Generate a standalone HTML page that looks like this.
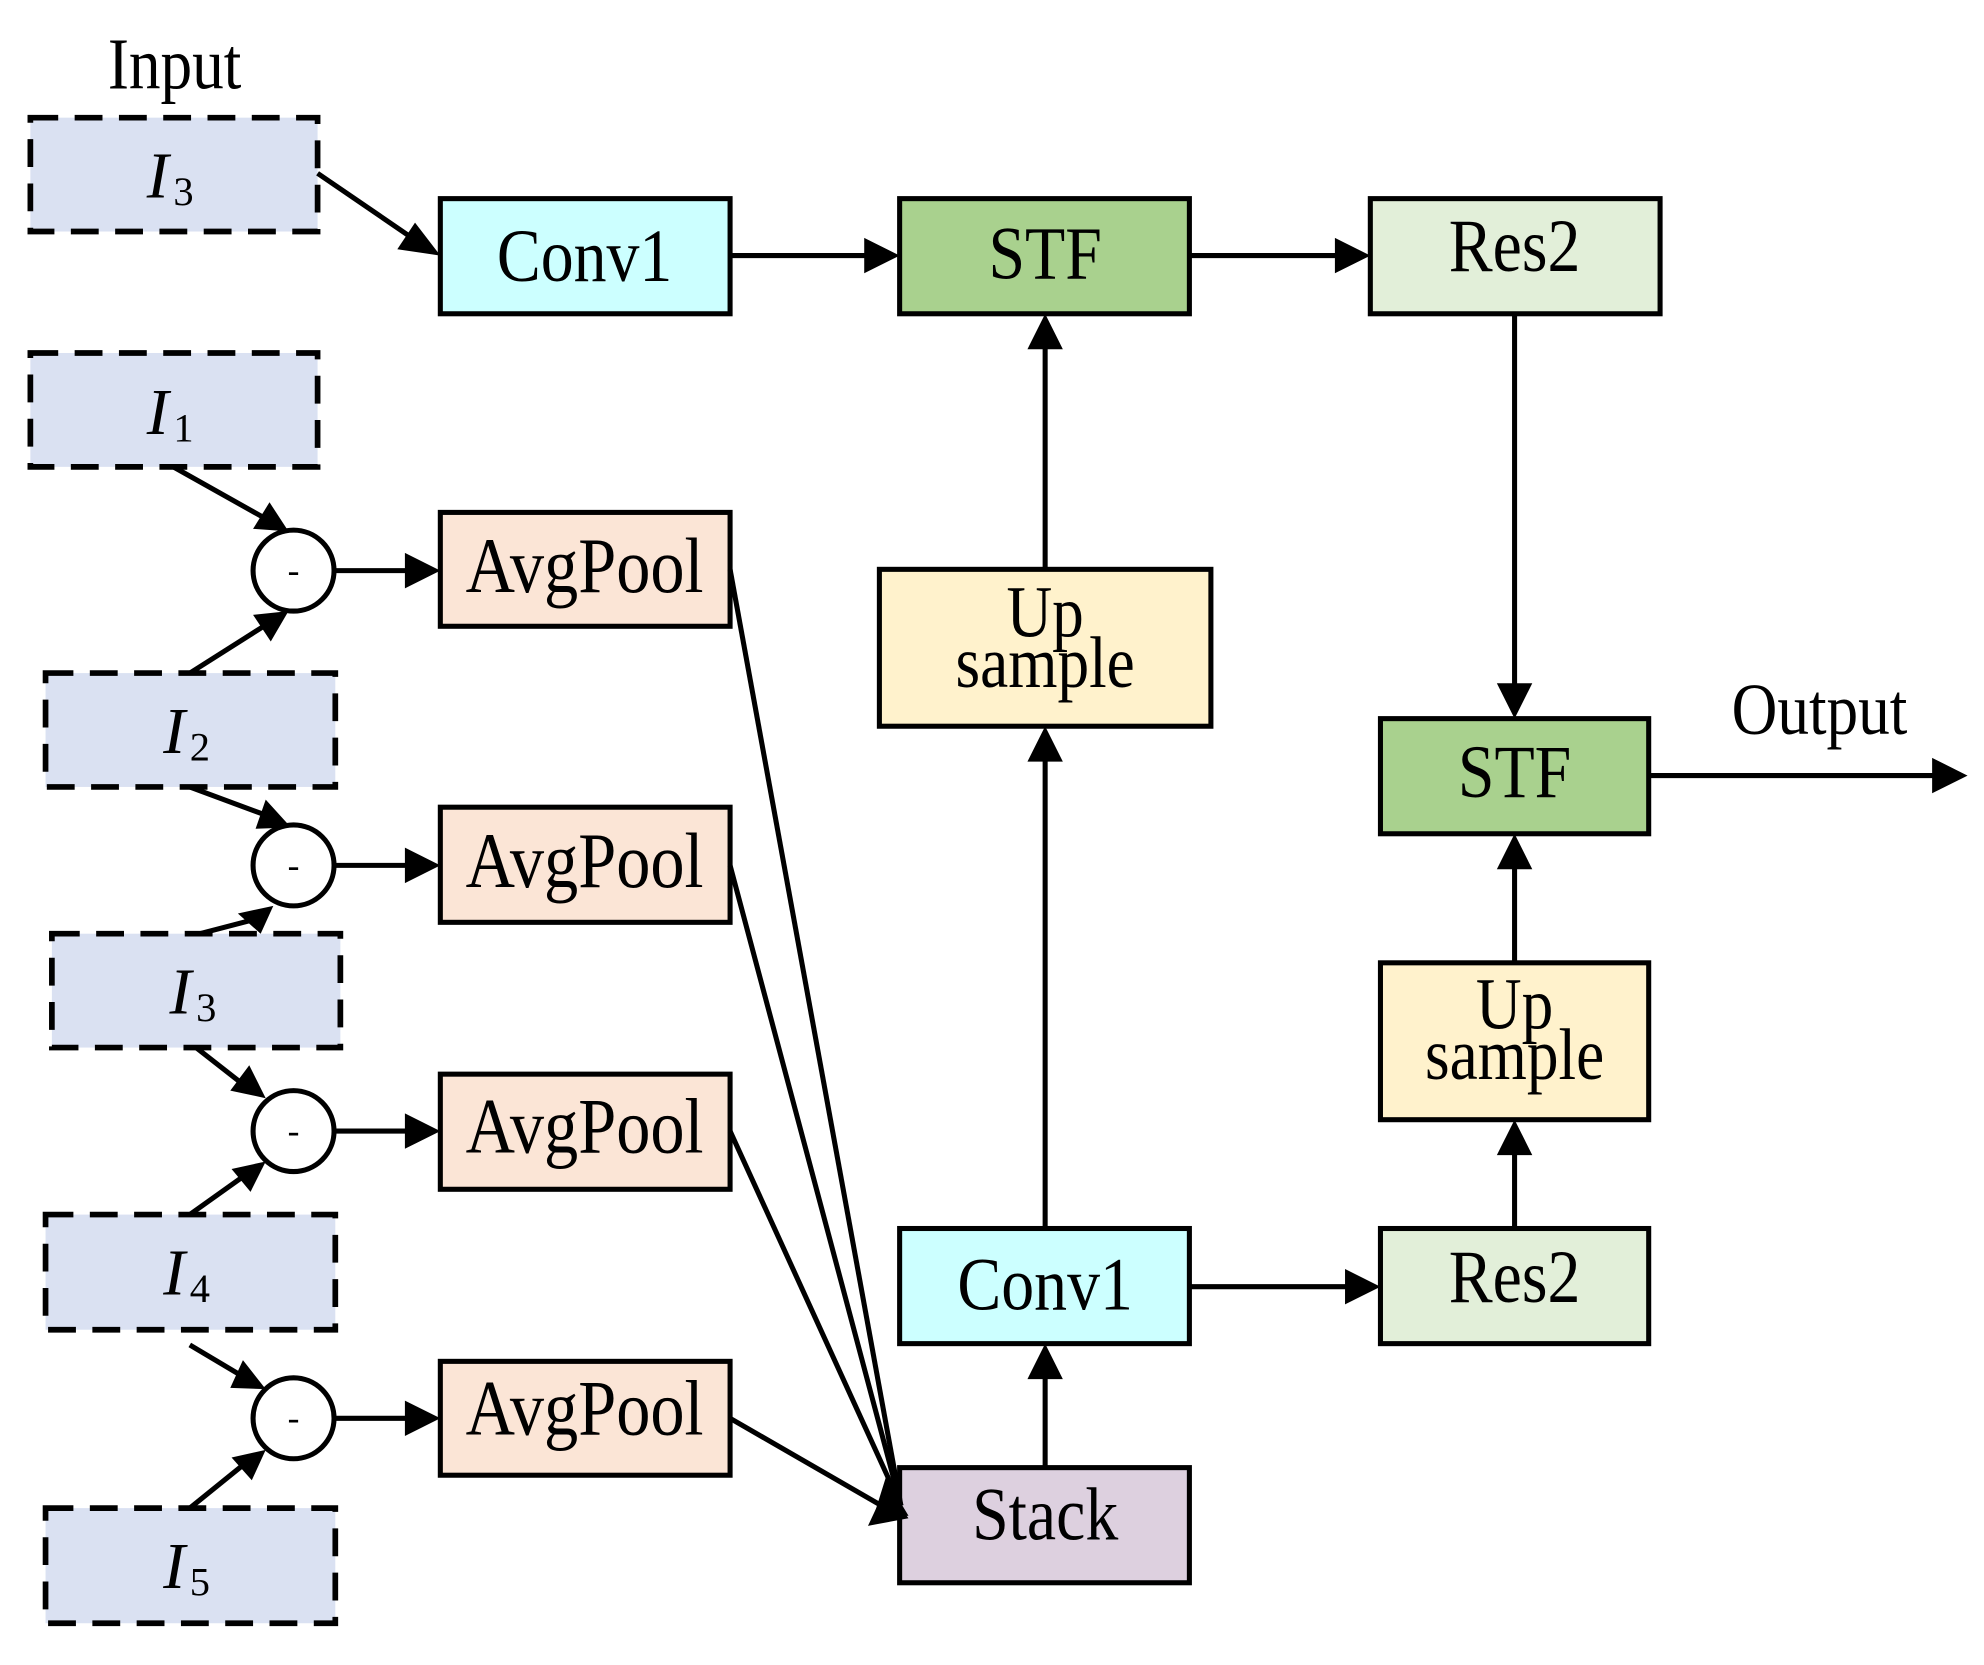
<!DOCTYPE html>
<html><head><meta charset="utf-8"><style>
html,body{margin:0;padding:0;background:#fff}
svg{display:block}
text{font-family:"Liberation Serif",serif;fill:#000}
</style></head><body>
<svg width="1984" height="1665" viewBox="0 0 1568 1316" preserveAspectRatio="none" xmlns="http://www.w3.org/2000/svg">
<g stroke="#000" stroke-width="4" fill="none">
<g stroke-dasharray="22 13" stroke-width="4.5" fill="#dae1f2">
<rect x="24" y="93" width="227" height="90"/>
<rect x="24" y="279" width="227" height="90"/>
<rect x="36" y="532" width="229" height="90"/>
<rect x="41" y="738" width="228" height="90"/>
<rect x="36" y="960" width="229" height="91"/>
<rect x="36" y="1192" width="229" height="91"/>
</g>
<rect x="348" y="157" width="229" height="91" fill="#ccffff"/>
<rect x="711" y="157" width="229" height="91" fill="#a9d18e"/>
<rect x="1083" y="157" width="229" height="91" fill="#e2efd9"/>
<rect x="348" y="405" width="229" height="90" fill="#fbe5d6"/>
<rect x="348" y="638" width="229" height="91" fill="#fbe5d6"/>
<rect x="348" y="849" width="229" height="91" fill="#fbe5d6"/>
<rect x="348" y="1076" width="229" height="90" fill="#fbe5d6"/>
<rect x="695" y="450" width="262" height="124" fill="#fff2cc"/>
<rect x="711" y="971" width="229" height="91" fill="#ccffff"/>
<rect x="711" y="1160" width="229" height="91" fill="#ddd0df"/>
<rect x="1091" y="971" width="212" height="91" fill="#e2efd9"/>
<rect x="1091" y="761" width="212" height="124" fill="#fff2cc"/>
<rect x="1091" y="568" width="212" height="91" fill="#a9d18e"/>
<circle cx="232" cy="451" r="32" fill="#fff"/>
<circle cx="232" cy="684" r="32" fill="#fff"/>
<circle cx="232" cy="894" r="32" fill="#fff"/>
<circle cx="232" cy="1121" r="32" fill="#fff"/>
<path d="M251 137 L330 191"/>
<path d="M577 202 H690"/>
<path d="M940 202 H1062"/>
<path d="M1197 248 V546"/>
<path d="M826 450 V270"/>
<path d="M826 971 V596"/>
<path d="M826 1160 V1084"/>
<path d="M940 1017 H1070"/>
<path d="M1197 971 V907"/>
<path d="M1197 761 V681"/>
<path d="M1303 613 H1533"/>
<path d="M137 369 L210 410"/>
<path d="M150 532 L210 494"/>
<path d="M150 622 L212 645"/>
<path d="M158 738 L200 727"/>
<path d="M155 828 L192 857"/>
<path d="M150 960 L192 930"/>
<path d="M150 1063 L192 1088"/>
<path d="M150 1192 L192 1158"/>
<path d="M264 451 H328"/><path d="M264 684 H328"/><path d="M264 894 H328"/><path d="M264 1121 H328"/>
<path d="M577 450 L712 1190"/>
<path d="M577 684 L712 1190"/>
<path d="M577 894 L712 1190"/>
<path d="M577 1121 L700 1192"/>
</g>
<g fill="#000">
<polygon points="348,202 314,197 328,176"/>
<polygon points="711,202 683,188 683,216"/>
<polygon points="1083,202 1055,188 1055,216"/>
<polygon points="1197,568 1183,540 1211,540"/>
<polygon points="826,248 812,276 840,276"/>
<polygon points="826,574 812,602 840,602"/>
<polygon points="826,1062 812,1090 840,1090"/>
<polygon points="1091,1017 1063,1003 1063,1031"/>
<polygon points="1197,885 1183,913 1211,913"/>
<polygon points="1197,659 1183,687 1211,687"/>
<polygon points="1555,613 1527,599 1527,627"/>
<polygon points="348,451 320,437 320,465"/>
<polygon points="348,684 320,670 320,698"/>
<polygon points="348,894 320,880 320,908"/>
<polygon points="348,1121 320,1107 320,1135"/>
<polygon points="228,420 200,418 213,397"/>
<polygon points="228,483 214,507 200,486"/>
<polygon points="230,654 202,655 210,632"/>
<polygon points="216,716 206,738 188,722"/>
<polygon points="210,868 182,862 197,842"/>
<polygon points="210,918 198,942 183,924"/>
<polygon points="210,1098 182,1097 192,1075"/>
<polygon points="210,1146 199,1170 183,1152"/>
<polygon points="718,1198 690,1200 700,1168"/>
<polygon points="718,1200 686,1206 700,1176"/>
</g>
<g font-size="52" text-anchor="middle">
<text transform="translate(138,70) scale(1,1.15)" x="0" y="0" font-size="50">Input</text>
<text transform="translate(1438,580) scale(1,1.15)" x="0" y="0" font-size="50">Output</text>
<text transform="translate(462,222) scale(1,1.15)">Conv1</text>
<text transform="translate(826,220) scale(1,1.15)">STF</text>
<text transform="translate(1197,214) scale(1,1.15)">Res2</text>
<text transform="translate(462,468) scale(1,1.15)" font-size="54">AvgPool</text>
<text transform="translate(462,701) scale(1,1.15)" font-size="54">AvgPool</text>
<text transform="translate(462,911) scale(1,1.15)" font-size="54">AvgPool</text>
<text transform="translate(462,1134) scale(1,1.15)" font-size="54">AvgPool</text>
<text transform="translate(826,503) scale(1,1.15)" font-size="50">Up</text>
<text transform="translate(826,543) scale(1,1.15)" font-size="50">sample</text>
<text transform="translate(1197,813) scale(1,1.15)" font-size="50">Up</text>
<text transform="translate(1197,853) scale(1,1.15)" font-size="50">sample</text>
<text transform="translate(826,1035) scale(1,1.15)">Conv1</text>
<text transform="translate(1197,1029) scale(1,1.15)">Res2</text>
<text transform="translate(1197,630) scale(1,1.15)">STF</text>
<text transform="translate(826,1217) scale(1,1.15)">Stack</text>
<g font-size="28"><text x="232" y="460">-</text><text x="232" y="693">-</text><text x="232" y="903">-</text><text x="232" y="1130">-</text></g>
</g>
<g font-size="52">
<text x="116" y="156" font-style="italic">I</text><text x="137" y="162" font-size="32">3</text>
<text x="116" y="343" font-style="italic">I</text><text x="137" y="349" font-size="32">1</text>
<text x="129" y="595" font-style="italic">I</text><text x="150" y="601" font-size="32">2</text>
<text x="134" y="801" font-style="italic">I</text><text x="155" y="807" font-size="32">3</text>
<text x="129" y="1023" font-style="italic">I</text><text x="150" y="1029" font-size="32">4</text>
<text x="129" y="1255" font-style="italic">I</text><text x="150" y="1261" font-size="32">5</text>
</g>
</svg>
</body></html>
